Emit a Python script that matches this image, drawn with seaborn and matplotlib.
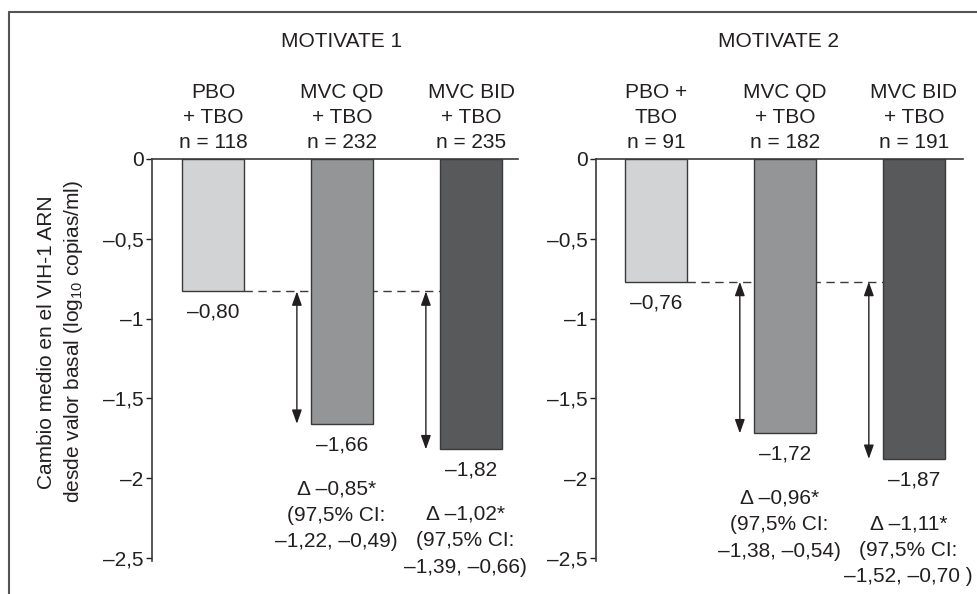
import seaborn as sns
import pandas as pd
import matplotlib.pyplot as plt
from matplotlib.lines import Line2D

# Data (bar heights as drawn, labels as printed)
arms = ["PBO + TBO", "MVC QD + TBO", "MVC BID + TBO"]
header_m1 = ["PBO\n+ TBO", "MVC QD\n+ TBO", "MVC BID\n+ TBO"]
header_m2 = ["PBO +\nTBO", "MVC QD\n+ TBO", "MVC BID\n+ TBO"]
n_m1 = [118, 232, 235]
n_m2 = [91, 182, 191]
change_m1 = [-0.83, -1.66, -1.82]
change_m2 = [-0.77, -1.72, -1.88]
label_m1 = ["–0,80", "–1,66", "–1,82"]
label_m2 = ["–0,76", "–1,72", "–1,87"]
delta_m1 = ["Δ –0,85*\n(97,5% CI:\n–1,22, –0,49)", "Δ –1,02*\n(97,5% CI:\n–1,39, –0,66)"]
delta_m2 = ["Δ –0,96*\n(97,5% CI:\n–1,38, –0,54)", "Δ –1,11*\n(97,5% CI:\n–1,52, –0,70 )"]
ytick_vals = [0, -0.5, -1, -1.5, -2, -2.5]
ytick_labels = ["0", "–0,5", "–1", "–1,5", "–2", "–2,5"]

colors = ["#d1d3d4", "#939598", "#58595b"]
ink = "#231f20"

sns.set_theme(style="white")
plt.rcParams["font.family"] = ["Liberation Sans", "DejaVu Sans"]
plt.rcParams["mathtext.fontset"] = "custom"
plt.rcParams["mathtext.rm"] = "Liberation Sans"
plt.rcParams["text.color"] = ink
FS = 15


def draw_study(ax, title, headers, ns, values, labels, deltas, xlim, title_x):
    df = pd.DataFrame({"arm": arms, "change": values})
    sns.barplot(data=df, x="arm", y="change", hue="arm", palette=colors,
                order=arms, hue_order=arms, width=0.48, edgecolor="#3a3a3a",
                linewidth=1, legend=False, ax=ax, zorder=3)
    ax.set_xlim(*xlim)
    ax.set_ylim(-2.52, 0)
    ax.set_xlabel("")
    ax.set_ylabel("")

    # headers on top
    ax.xaxis.tick_top()
    ax.set_xticks(range(len(arms)))
    ax.set_xticklabels([f"{h}\nn = {n}" for h, n in zip(headers, ns)],
                       fontsize=FS, linespacing=1.4)
    ax.tick_params(axis="x", length=0, pad=5, colors=ink)

    ax.set_yticks(ytick_vals)
    ax.set_yticklabels(ytick_labels, fontsize=FS)
    ax.tick_params(axis="y", left=True, length=4, width=1, pad=2,
                   colors=ink, direction="out")
    for s in ["right", "bottom"]:
        ax.spines[s].set_visible(False)
    for s in ["left", "top"]:
        ax.spines[s].set_color("#3a3a3a")
        ax.spines[s].set_linewidth(1.2)

    ax.text(title_x, 1.293, title, transform=ax.transAxes, ha="center",
            va="center", fontsize=FS)

    # reference line from placebo level
    ref = values[0]
    ax.hlines(ref, 0.24, 1.76, colors="#3a3a3a", linestyles=(0, (6, 4)),
              linewidth=1, zorder=1)

    # value labels under bars
    for i, (v, lab) in enumerate(zip(values, labels)):
        ax.annotate(lab, xy=(i, v), xytext=(0, -15), textcoords="offset points",
                    ha="center", va="center", fontsize=FS)

    # difference arrows + delta text
    for j, txt in enumerate(deltas):
        i = j + 1
        ax.annotate("", xy=(i - 0.35, values[i]), xytext=(i - 0.35, ref),
                    arrowprops=dict(arrowstyle="<|-|>,head_length=0.7,head_width=0.25",
                                    color="#231f20", lw=1, shrinkA=0, shrinkB=0))
        ax.annotate(txt, xy=(i, values[i]), xytext=(-4, -40),
                    textcoords="offset points", ha="center", va="top",
                    fontsize=FS, linespacing=1.5, multialignment="center")


fig = plt.figure(figsize=(9.78, 5.94), dpi=100)
W, H = 978, 594
ax1 = fig.add_axes([152 / W, 1 - 561 / H, 366 / W, 402 / H])
ax2 = fig.add_axes([596 / W, 1 - 561 / H, 367 / W, 402 / H])

draw_study(ax1, "MOTIVATE 1", header_m1, n_m1, change_m1, label_m1, delta_m1,
           (-0.473, 2.364), 0.519)
draw_study(ax2, "MOTIVATE 2", header_m2, n_m2, change_m2, label_m2, delta_m2,
           (-0.465, 2.380), 0.496)

fig.text(61 / W, 1 - 342 / H,
         "Cambio medio en el VIH-1 ARN\ndesde valor basal (log$_{10}$ copias/ml)",
         rotation=90, ha="center", va="center", fontsize=FS, linespacing=1.3,
         multialignment="center")

# outer frame (top and left edges)
fig.add_artist(Line2D([9 / W, 1], [1 - 12 / H, 1 - 12 / H], color="#555555", lw=1.5))
fig.add_artist(Line2D([9 / W, 9 / W], [0, 1 - 12 / H], color="#555555", lw=1.5))

fig.savefig("out.png", dpi=100)
